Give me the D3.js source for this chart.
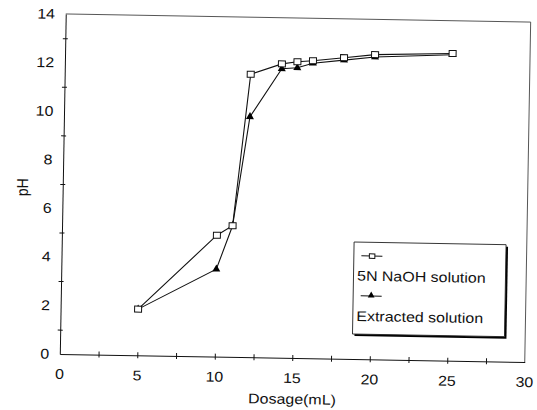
<!DOCTYPE html>
<html>
<head>
<meta charset="utf-8">
<script src="https://cdn.jsdelivr.net/npm/d3@7"></script>
<style>
  html, body { margin: 0; padding: 0; background: #fff; }
  svg { display: block; font-family: "Liberation Sans", Arial, sans-serif; }
</style>
</head>
<body>
<script>
// Titration curves: pH against dosage of added base
const dosage      = [5, 10, 11, 12, 14, 15, 16, 18, 20, 25];
const phNaOH      = [1.9, 5.0, 5.4, 11.65, 12.1, 12.2, 12.25, 12.4, 12.55, 12.65];
const phExtracted = [1.9, 3.6, 5.4, 9.9, 11.9, 11.95, 12.15, 12.3, 12.45, 12.6];

const xLabelTicks = [0, 5, 10, 15, 20, 25, 30];
const yLabelTicks = [0, 2, 4, 6, 8, 10, 12, 14];
const xMarkTicks  = [2.5, 5, 7.5, 10, 12.5, 15, 17.5, 20, 22.5, 25, 27.5];
const yMarkTicks  = [1, 3, 5, 7, 9, 11, 13];

const seriesNames = ["5N NaOH solution", "Extracted solution"];
const xTitle = "Dosage(mL)";
const yTitle = "pH";

const W = 537, H = 410;
const FONT = 14, STRETCH = 1.14;

const svg = d3.select("body").append("svg")
  .attr("width", W).attr("height", H);
svg.append("rect").attr("width", W).attr("height", H).attr("fill", "#fff");

// whole chart sits slightly tilted
const g = svg.append("g").attr("transform", "rotate(1,295.5,190.25)");

const x = d3.scaleLinear().domain([0, 30]).range([62.7, 527.7]);
const y = d3.scaleLinear().domain([0, 14]).range([358, 18]);

// frame: top and right edges
g.append("path")
  .attr("d", `M${x(0)},${y(14)}H${x(30)}V${y(0)}`)
  .attr("fill", "none").attr("stroke", "#444").attr("stroke-width", 0.9);

// x axis with crossing tick marks
const xa = g.append("g").attr("transform", `translate(0,${y(0)})`)
  .call(d3.axisBottom(x).tickValues(xMarkTicks).tickSizeOuter(0).tickFormat(""));
xa.select(".domain").attr("stroke", "#111");
xa.selectAll(".tick line").attr("y1", -3).attr("y2", 3).attr("stroke", "#111");

// y axis with crossing tick marks
const ya = g.append("g").attr("transform", `translate(${x(0)},0)`)
  .call(d3.axisLeft(y).tickValues(yMarkTicks).tickSizeOuter(0).tickFormat(""));
ya.select(".domain").attr("stroke", "#111");
ya.selectAll(".tick line").attr("x1", -2.5).attr("x2", 2.5).attr("stroke", "#111");

function label(sel, tx, ty, anchor, extra) {
  return sel.append("text")
    .attr("transform", `translate(${tx},${ty}) scale(${STRETCH},1)` + (extra || ""))
    .attr("text-anchor", anchor)
    .attr("font-size", FONT)
    .attr("fill", "#111");
}

g.selectAll("text.xl").data(xLabelTicks).enter().append("text")
  .attr("class", "xl")
  .attr("transform", d => `translate(${x(d)},383) scale(${STRETCH},1)`)
  .attr("text-anchor", "middle").attr("font-size", FONT).attr("fill", "#111")
  .text(d => d);

g.selectAll("text.yl").data(yLabelTicks).enter().append("text")
  .attr("class", "yl")
  .attr("transform", d => `translate(52,${y(d)}) scale(${STRETCH},1)`)
  .attr("dy", "0.35em")
  .attr("text-anchor", "end").attr("font-size", FONT).attr("fill", "#111")
  .text(d => d);

label(g, 295.7, 404, "middle").text(xTitle);
label(g, 28, 192, "middle", " rotate(-90)").text(yTitle);

// series lines
const line = d3.line().x(d => x(d[0])).y(d => y(d[1]));
const naoh = dosage.map((d, i) => [d, phNaOH[i]]);
const extr = dosage.map((d, i) => [d, phExtracted[i]]);

[naoh, extr].forEach(s => {
  g.append("path").datum(s).attr("d", line)
    .attr("fill", "none").attr("stroke", "#111").attr("stroke-width", 1.1);
});

// markers: open squares and filled triangles
const tri = d3.symbol().type(d3.symbolTriangle).size(28);
g.selectAll("path.tri").data(extr).enter().append("path")
  .attr("class", "tri")
  .attr("transform", d => `translate(${x(d[0])},${y(d[1])})`)
  .attr("d", tri).attr("fill", "#000");

g.selectAll("rect.sq").data(naoh).enter().append("rect")
  .attr("class", "sq")
  .attr("x", d => x(d[0]) - 3.5).attr("y", d => y(d[1]) - 3)
  .attr("width", 7).attr("height", 6)
  .attr("fill", "#fff").attr("stroke", "#111").attr("stroke-width", 1);

// legend box with drop shadow
const lg = g.append("g");
lg.append("rect").attr("x", 357).attr("y", 243).attr("width", 152).attr("height", 92).attr("fill", "#000");
lg.append("rect").attr("x", 355).attr("y", 241).attr("width", 152).attr("height", 92)
  .attr("fill", "#fff").attr("stroke", "#222").attr("stroke-width", 0.9);

lg.append("line").attr("x1", 362.5).attr("x2", 383.5).attr("y1", 254.7).attr("y2", 254.7)
  .attr("stroke", "#111").attr("stroke-width", 1);
lg.append("rect").attr("x", 370.5).attr("y", 252.5).attr("width", 5.5).attr("height", 4.5)
  .attr("fill", "#fff").attr("stroke", "#111").attr("stroke-width", 1);
label(lg, 358.6, 279.5, "start").text(seriesNames[0]);

lg.append("line").attr("x1", 362.5).attr("x2", 383.5).attr("y1", 294.7).attr("y2", 294.7)
  .attr("stroke", "#111").attr("stroke-width", 1);
lg.append("path").attr("transform", "translate(373,294.2)")
  .attr("d", d3.symbol().type(d3.symbolTriangle).size(20)).attr("fill", "#000");
label(lg, 358.6, 319.8, "start").text(seriesNames[1]);
</script>
</body>
</html>
